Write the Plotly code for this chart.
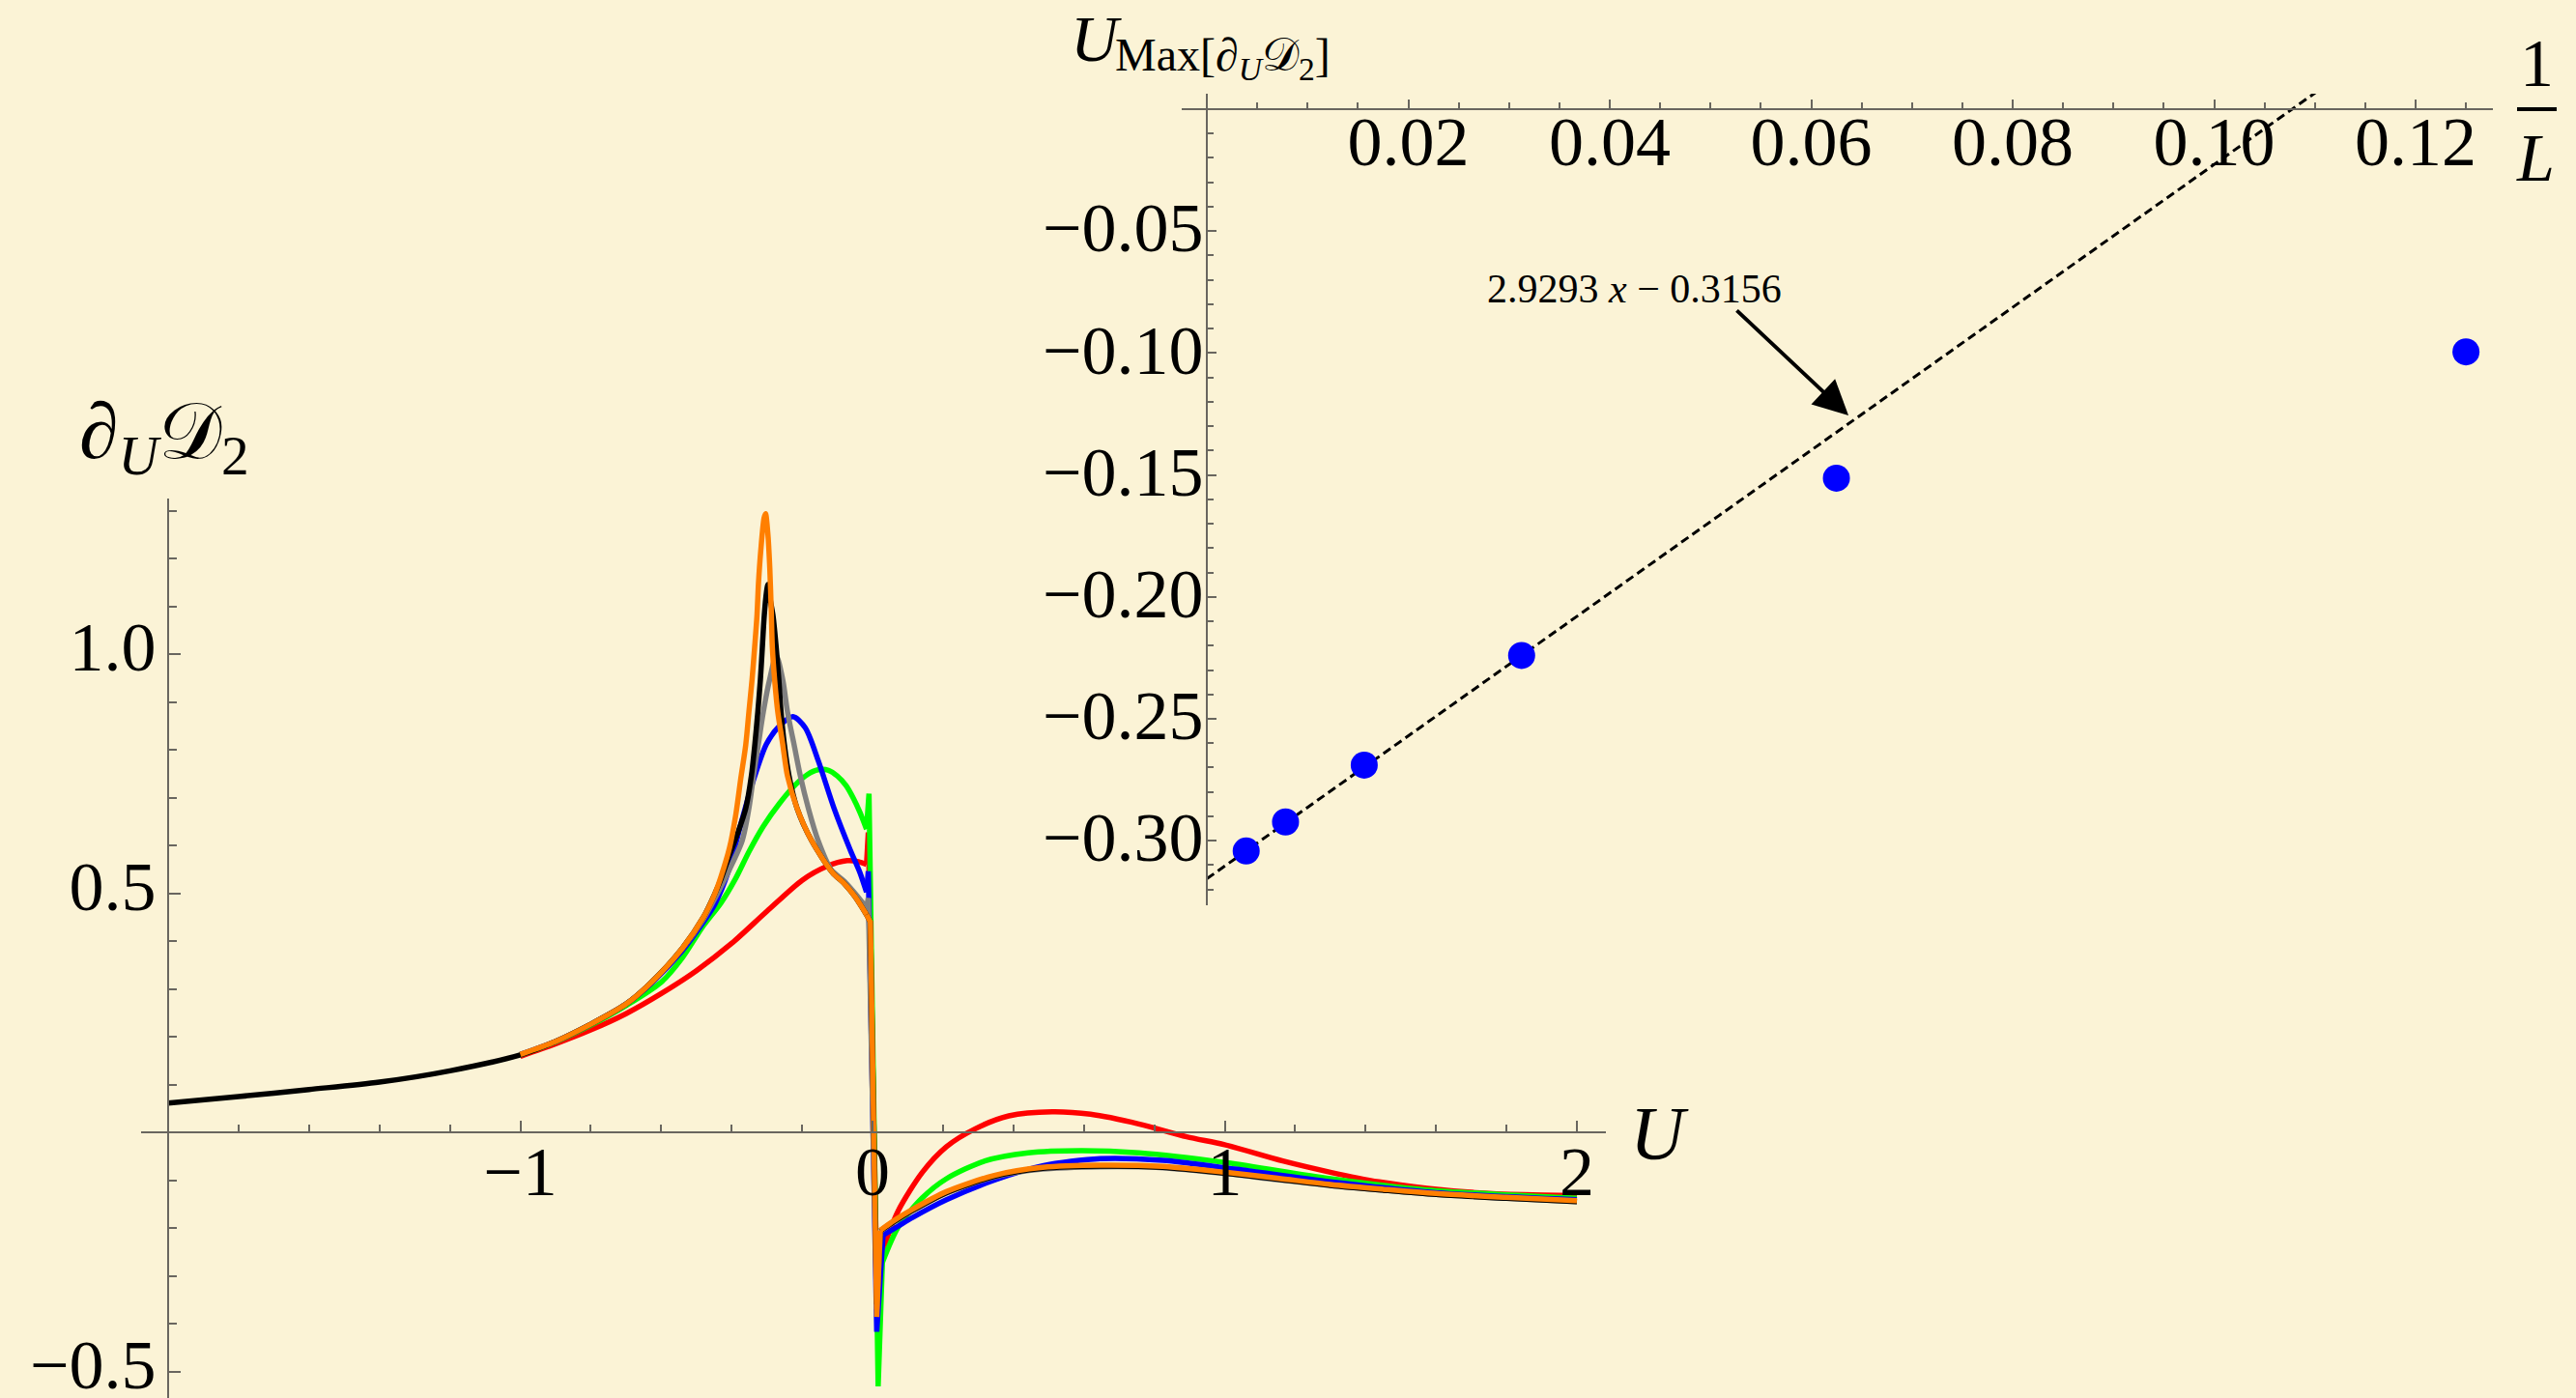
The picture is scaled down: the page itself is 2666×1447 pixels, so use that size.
import numpy as np
import plotly.graph_objects as go

W, H = 2666, 1447

# ---------------- main panel: dU D2 versus U for several system sizes ----------------
U_RED = [-1.0, -0.9, -0.8, -0.7, -0.6, -0.5, -0.4, -0.3, -0.2, -0.13, -0.072, -0.04, -0.017,
         -0.012, 0.012,
         0.033, 0.073, 0.1416, 0.21, 0.2916, 0.387, 0.51, 0.619, 0.756, 0.892, 1.0, 1.165, 1.3, 1.438, 1.575, 1.711, 1.85, 2.0]
D_RED = [0.159, 0.185, 0.214, 0.248, 0.29, 0.338, 0.395, 0.462, 0.527, 0.556, 0.568, 0.566, 0.56,
         0.627, -0.30,
         -0.238, -0.164, -0.0835, -0.03, 0.0074, 0.0343, 0.043, 0.0377, 0.0175, -0.0094, -0.026, -0.06, -0.0835, -0.1037, -0.117, -0.126, -0.1305, -0.1325]

U_GREEN = [-1.0, -0.9, -0.8, -0.7, -0.6, -0.54, -0.484, -0.43, -0.39, -0.35, -0.31, -0.264, -0.2186, -0.185, -0.1545, -0.125,
           -0.0997, -0.075, -0.054, -0.035, -0.017,
           -0.01, 0.016,
           0.028, 0.073, 0.1416, 0.21, 0.319, 0.442, 0.592, 0.756, 1.0, 1.3, 1.575, 2.0]
D_GREEN = [0.162, 0.189, 0.224, 0.265, 0.314, 0.365, 0.428, 0.48, 0.529, 0.588, 0.640, 0.688, 0.727, 0.748, 0.758, 0.757,
           0.745, 0.725, 0.698, 0.668, 0.634,
           0.708, -0.531,
           -0.272, -0.198, -0.137, -0.097, -0.06, -0.043, -0.0384, -0.043, -0.063, -0.097, -0.1205, -0.138]

U_BLUE = [-1.0, -0.9, -0.8, -0.7, -0.63, -0.54, -0.48, -0.447, -0.4106, -0.374, -0.3374, -0.301, -0.264, -0.2259,
          -0.191, -0.1545, -0.109, -0.063, -0.0357, -0.017,
          -0.012, 0.012,
          0.03, 0.073, 0.114, 0.21, 0.346, 0.483, 0.647, 0.824, 1.029, 1.3, 1.6, 2.0]
D_BLUE = [0.163, 0.19, 0.226, 0.268, 0.31, 0.38, 0.44, 0.478, 0.543, 0.644, 0.738, 0.812, 0.85, 0.869,
          0.846, 0.778, 0.677, 0.59, 0.543, 0.502,
          0.546, -0.417,
          -0.215, -0.196, -0.178, -0.141, -0.1, -0.07, -0.055, -0.0586, -0.0768, -0.1037, -0.126, -0.141]

U_GRAY = [-1.0, -0.9, -0.8, -0.7, -0.63, -0.54, -0.48, -0.447, -0.406, -0.37, -0.351, -0.338, -0.324, -0.31, -0.292, -0.2735,
          -0.255, -0.2414, -0.2231, -0.2048, -0.182, -0.1545, -0.118, -0.08, -0.05, -0.017,
          -0.012, 0.012,
          0.022, 0.06, 0.114, 0.21, 0.346, 0.483, 0.647, 0.824, 1.0, 1.15, 1.3, 1.45, 1.6, 1.8, 2.0]
D_GRAY = [0.163, 0.19, 0.226, 0.268, 0.312, 0.384, 0.446, 0.49, 0.55, 0.61, 0.677, 0.745, 0.812, 0.879, 0.947, 0.997,
          0.947, 0.879, 0.812, 0.745, 0.677, 0.61, 0.55, 0.525, 0.50, 0.47,
          0.49, -0.37,
          -0.207, -0.188, -0.164, -0.127, -0.093, -0.077, -0.072, -0.074, -0.086, -0.099, -0.111, -0.121, -0.13, -0.138, -0.145]

U_BLACK = [-2.0, -1.8, -1.6, -1.4, -1.2, -1.0, -0.9, -0.8, -0.7, -0.63, -0.54, -0.48, -0.447, -0.43, -0.406, -0.383, -0.36,
           -0.344, -0.334, -0.3257, -0.3183, -0.3128, -0.3073, -0.301, -0.297,
           -0.292, -0.2826, -0.2735, -0.266, -0.2597, -0.2505, -0.237, -0.214, -0.173, -0.1134, -0.08, -0.05, -0.017,
           -0.006, 0.012,
           0.022, 0.06, 0.114, 0.21, 0.346, 0.483, 0.647, 0.824, 1.0, 1.15, 1.3, 1.45, 1.6, 1.8, 2.0]
D_BLACK = [0.0612, 0.0747, 0.0895, 0.105, 0.1286, 0.162, 0.19, 0.226, 0.268, 0.312, 0.385, 0.45, 0.50, 0.53, 0.58, 0.625, 0.677,
           0.745, 0.812, 0.879, 0.947, 1.014, 1.081, 1.13, 1.1455,
           1.12, 1.081, 1.014, 0.947, 0.879, 0.812, 0.745, 0.677, 0.61, 0.543, 0.52, 0.493, 0.455,
           0.44, -0.36,
           -0.206, -0.187, -0.163, -0.126, -0.092, -0.0754, -0.0707, -0.0734, -0.0855, -0.098, -0.111, -0.121, -0.13, -0.138, -0.145]

U_ORANGE = [-1.0, -0.9, -0.8, -0.7, -0.63, -0.54, -0.48, -0.447, -0.43, -0.406, -0.388, -0.374, -0.36, -0.351, -0.342,
            -0.3347, -0.328, -0.3237, -0.3173, -0.308, -0.3037,
            -0.2975, -0.2917, -0.2875, -0.2844, -0.278, -0.269, -0.255, -0.2414, -0.214, -0.173, -0.1134, -0.08, -0.05, -0.017,
            -0.006, 0.012,
            0.022, 0.06, 0.114, 0.21, 0.346, 0.483, 0.647, 0.824, 1.0, 1.15, 1.3, 1.45, 1.6, 1.8, 2.0]
D_ORANGE = [0.163, 0.19, 0.226, 0.268, 0.312, 0.385, 0.45, 0.50, 0.535, 0.595, 0.665, 0.74, 0.81, 0.879, 0.947,
            1.014, 1.081, 1.149, 1.216, 1.284, 1.2935,
            1.255, 1.18, 1.09, 1.014, 0.947, 0.879, 0.812, 0.745, 0.677, 0.61, 0.543, 0.52, 0.493, 0.455,
            0.44, -0.386,
            -0.205, -0.185, -0.161, -0.124, -0.09, -0.0734, -0.0687, -0.0714, -0.0835, -0.096, -0.109, -0.119, -0.128, -0.136, -0.143]

MAIN_CURVES = [
    ("red", U_RED, D_RED, "rgb(255,0,0)"),
    ("green", U_GREEN, D_GREEN, "rgb(0,255,0)"),
    ("blue", U_BLUE, D_BLUE, "rgb(0,0,255)"),
    ("gray", U_GRAY, D_GRAY, "rgb(128,128,128)"),
    ("black", U_BLACK, D_BLACK, "rgb(0,0,0)"),
    ("orange", U_ORANGE, D_ORANGE, "rgb(255,127,0)"),
]

MAIN_XTICKS = [-1, 0, 1, 2]
MAIN_XTICKTEXT = ["\u22121", "0", "1", "2"]
MAIN_YTICKS = [-0.5, 0.5, 1.0]
MAIN_YTICKTEXT = ["\u22120.5", "0.5", "1.0"]

# ---------------- inset: location of the maximum against 1/L ----------------
L_SIZES = [256, 128, 64, 32, 16, 8]
U_MAX = [-0.3042, -0.2923, -0.2690, -0.2240, -0.1513, -0.0995]
FIT_SLOPE = 2.9293
FIT_INTERCEPT = -0.3156
FIT_X_END = 0.1104

INSET_XTICKS = [0.02, 0.04, 0.06, 0.08, 0.10, 0.12]
INSET_XTICKTEXT = ["0.02", "0.04", "0.06", "0.08", "0.10", "0.12"]
INSET_YTICKS = [-0.05, -0.10, -0.15, -0.20, -0.25, -0.30]
INSET_YTICKTEXT = ["\u22120.05", "\u22120.10", "\u22120.15", "\u22120.20", "\u22120.25", "\u22120.30"]

# ---------------- styling ----------------
BG = "rgb(251,243,214)"
AXIS = "rgb(105,102,95)"
SERIF = "Liberation Serif, Times New Roman, DejaVu Serif, serif"
TICK_FONT = dict(family=SERIF, size=72, color="black")
CURVE_WIDTH = 5.5


def px_x(p):
    return p / W


def px_y(p):
    return 1 - p / H


def split_branches(u, d):
    """Split a curve into the smooth U<0 branch, the jump across U=0 and the smooth U>0 branch."""
    u = np.asarray(u, dtype=float)
    d = np.asarray(d, dtype=float)
    il = np.where(u <= -0.015)[0][-1]
    ir = np.where(u >= 0.02)[0][0]
    return (u[: il + 1], d[: il + 1]), (u[il: ir + 1], d[il: ir + 1]), (u[ir:], d[ir:])


fig = go.Figure()

for name, u, d, col in MAIN_CURVES:
    left, jump, right = split_branches(u, d)
    for (xs, ys), shape in ((left, "spline"), (jump, "linear"), (right, "spline")):
        fig.add_trace(go.Scatter(
            x=xs, y=ys, mode="lines", name=name,
            line=dict(color=col, width=CURVE_WIDTH, shape=shape, smoothing=0.8),
            xaxis="x", yaxis="y", hoverinfo="skip",
        ))

# fitted straight line of the inset
fit_x = np.array([0.0, FIT_X_END])
fig.add_trace(go.Scatter(
    x=fit_x, y=FIT_SLOPE * fit_x + FIT_INTERCEPT, mode="lines",
    line=dict(color="black", width=3, dash="9px,5px"),
    xaxis="x2", yaxis="y2", hoverinfo="skip",
))

inv_L = [1.0 / L for L in L_SIZES]
fig.add_trace(go.Scatter(
    x=inv_L, y=U_MAX, mode="markers",
    marker=dict(color="rgb(0,0,255)", size=28, line=dict(width=0)),
    xaxis="x2", yaxis="y2", hoverinfo="skip",
))

# main axes: U spans pixels 146..1662, zero of U at pixel 903
main_x0 = (146 - 903) / 364.5
main_x1 = (1662 - 903) / 364.5
main_ytop = (1172 - 516) / 495.0
main_ybot = (1172 - 1447) / 495.0

inset_x0 = (1223 - 1249) / 10425.0
inset_x1 = (2580 - 1249) / 10425.0
inset_ytop = (113 - 97) / 2524.0
inset_ybot = (113 - 937) / 2524.0

common_axis = dict(showgrid=False, zeroline=False, showline=True, linecolor=AXIS, linewidth=2,
                   ticks="inside", tickcolor=AXIS, tickwidth=2, tickfont=TICK_FONT, tickmode="array",
                   ticklabeloverflow="allow", automargin=False)

fig.update_layout(
    width=W, height=H, autosize=False,
    margin=dict(l=0, r=0, t=0, b=0, pad=0),
    paper_bgcolor=BG, plot_bgcolor="rgba(0,0,0,0)",
    showlegend=False,
    xaxis=dict(common_axis, domain=[px_x(146), px_x(1662)], range=[main_x0, main_x1],
               anchor="free", position=px_y(1172),
               tickvals=MAIN_XTICKS, ticktext=MAIN_XTICKTEXT, ticklen=11, ticklabelstandoff=-22,
               minor=dict(ticks="inside", tickmode="linear", tick0=0, dtick=0.2, ticklen=7,
                          tickcolor=AXIS, tickwidth=1.5)),
    yaxis=dict(common_axis, domain=[0, px_y(516)], range=[main_ybot, main_ytop],
               anchor="free", position=px_x(174),
               tickvals=MAIN_YTICKS, ticktext=MAIN_YTICKTEXT, ticklen=12, ticklabelstandoff=-3,
               ticklabelshift=-8,
               minor=dict(ticks="inside", tickmode="linear", tick0=0, dtick=0.1, ticklen=8,
                          tickcolor=AXIS, tickwidth=1.5)),
    xaxis2=dict(common_axis, domain=[px_x(1223), px_x(2580)], range=[inset_x0, inset_x1],
                anchor="free", position=px_y(113),
                tickvals=INSET_XTICKS, ticktext=INSET_XTICKTEXT, ticklen=9, ticklabelstandoff=-29,
                minor=dict(ticks="inside", tickmode="linear", tick0=0, dtick=0.005, ticklen=6,
                           tickcolor=AXIS, tickwidth=1.5)),
    yaxis2=dict(common_axis, domain=[px_y(937), px_y(97)], range=[inset_ybot, inset_ytop],
                anchor="free", position=px_x(1249),
                tickvals=INSET_YTICKS, ticktext=INSET_YTICKTEXT, ticklen=9, ticklabelstandoff=-12,
                ticklabelshift=-4,
                minor=dict(ticks="inside", tickmode="linear", tick0=0, dtick=0.01, ticklen=6,
                           tickcolor=AXIS, tickwidth=1.5)),
)

ann = []
# main vertical-axis label
ann.append(dict(text="\u2202<sub><i>U</i></sub>\U0001D49F<sub>2</sub>", xref="paper", yref="paper",
                x=px_x(80), y=px_y(452), xanchor="left", yanchor="middle", showarrow=False,
                font=dict(family=SERIF, size=82, color="black")))
# main horizontal-axis label
ann.append(dict(text="<i>U</i>", xref="paper", yref="paper",
                x=px_x(1717), y=px_y(1172), xanchor="center", yanchor="middle", showarrow=False,
                font=dict(family=SERIF, size=78, color="black")))
# inset vertical-axis label
ann.append(dict(text="<i>U</i>", xref="paper", yref="paper",
                x=px_x(1106), y=px_y(40), xanchor="left", yanchor="middle", showarrow=False,
                font=dict(family=SERIF, size=68, color="black")))
ann.append(dict(text="Max[\u2202<sub><i>U</i></sub>\U0001D49F<sub>2</sub>]", xref="paper", yref="paper",
                x=px_x(1152), y=px_y(60), xanchor="left", yanchor="middle", showarrow=False,
                font=dict(family=SERIF, size=48, color="black")))
# inset horizontal-axis label 1/L
ann.append(dict(text="1", xref="paper", yref="paper",
                x=px_x(2625), y=px_y(66), xanchor="center", yanchor="middle", showarrow=False,
                font=dict(family=SERIF, size=70, color="black")))
ann.append(dict(text="<i>L</i>", xref="paper", yref="paper",
                x=px_x(2624), y=px_y(163), xanchor="center", yanchor="middle", showarrow=False,
                font=dict(family=SERIF, size=70, color="black")))
# fit annotation
ann.append(dict(text="2.9293 <i>x</i> \u2212 0.3156", xref="paper", yref="paper",
                x=px_x(1692), y=px_y(299), xanchor="center", yanchor="middle", showarrow=False,
                font=dict(family=SERIF, size=42, color="black")))
ann.append(dict(text="", xref="x2", yref="y2", x=0.0637, y=-0.1256,
                axref="x2", ayref="y2", ax=0.05247, ay=-0.082,
                showarrow=True, arrowhead=2, arrowsize=1.8, arrowwidth=4, arrowcolor="black",
                standoff=0, startstandoff=0))
fig.update_layout(annotations=ann)

# fraction bar of 1/L
fig.add_shape(type="line", xref="paper", yref="paper",
              x0=px_x(2605), x1=px_x(2646), y0=px_y(113), y1=px_y(113),
              line=dict(color="black", width=4))

fig.write_html("out.html")
